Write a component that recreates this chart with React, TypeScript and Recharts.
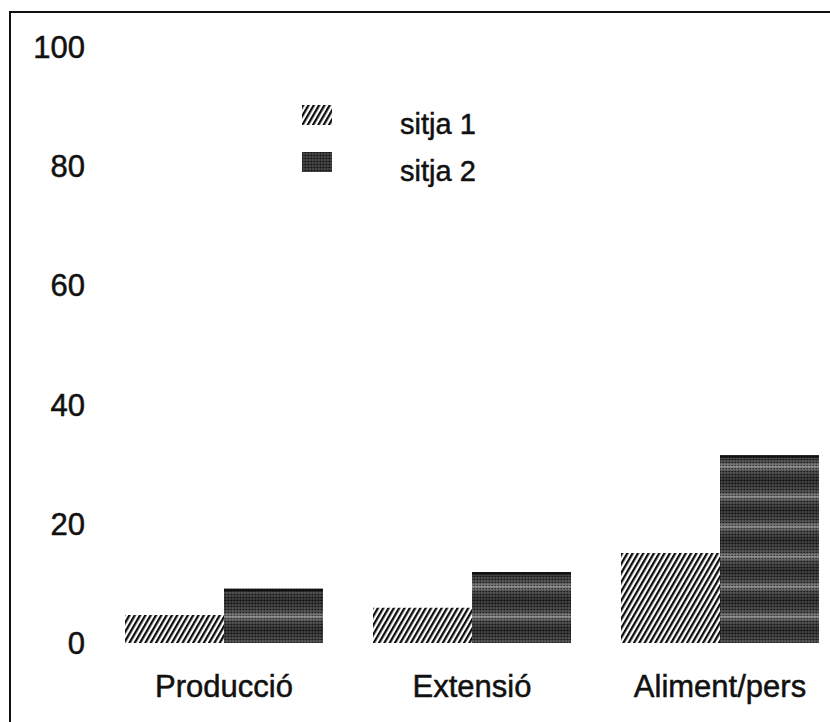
import React from 'react';
import { BarChart, Bar, XAxis, YAxis, Legend } from 'recharts';

const categories = ['Producció', 'Extensió', 'Aliment/pers'];
const sitja1 = [4.7, 5.9, 15.1];
const sitja2 = [9.1, 11.9, 31.5];
const yTicks = [0, 20, 40, 60, 80, 100];
const seriesNames = ['sitja 1', 'sitja 2'];

const data = categories.map((c, i) => ({ name: c, s1: sitja1[i], s2: sitja2[i] }));

const FONT = '"Liberation Sans", Arial, Helvetica, sans-serif';

const PatternDefs = () => (
  <svg width={0} height={0} style={{ position: 'absolute', left: 0, top: 0 }}>
    <defs>
      <pattern id="hatch" patternUnits="userSpaceOnUse" width={4.6} height={10} patternTransform="rotate(30)">
        <rect x={0} y={0} width={4.6} height={10} fill="#fff" />
        <rect x={0} y={0} width={2.3} height={10} fill="#0d0d0d" />
      </pattern>
      <linearGradient id="vgrad" x1="0" y1="0" x2="0" y2="1">
        <stop offset="0" stopColor="#262626" />
        <stop offset="0.4" stopColor="#444" />
        <stop offset="0.55" stopColor="#858585" />
        <stop offset="0.7" stopColor="#444" />
        <stop offset="1" stopColor="#262626" />
      </linearGradient>
      <pattern id="bandFill" patternUnits="userSpaceOnUse" width={10} height={30}>
        <rect x={0} y={0} width={10} height={30} fill="url(#vgrad)" />
      </pattern>
      <pattern id="stipple" patternUnits="userSpaceOnUse" width={3} height={3}>
        <rect x={0} y={0} width={1} height={1} fill="#000" fillOpacity={0.55} />
        <rect x={1.5} y={1.5} width={1} height={1} fill="#fff" fillOpacity={0.35} />
        <rect x={2} y={0} width={1} height={1} fill="#000" fillOpacity={0.3} />
      </pattern>
    </defs>
  </svg>
);

const DarkBar = (props: any) => {
  const { x, y, width, height } = props;
  if (!height || height <= 0) return null;
  return (
    <g>
      <rect x={x} y={y} width={width} height={height} fill="url(#bandFill)" />
      <rect x={x} y={y} width={width} height={height} fill="url(#stipple)" />
      <rect x={x} y={y} width={width} height={2.5} fill="#111" />
    </g>
  );
};

const LegendContent = (props: any) => {
  const payload = props && props.payload && props.payload.length ? props.payload : seriesNames.map((n) => ({ value: n }));
  return (
    <div style={{ position: 'relative', width: 830, height: 200, fontFamily: FONT }}>
      {payload.map((p: any, i: number) => (
        <React.Fragment key={i}>
          <svg
            width={30}
            height={20}
            style={{ position: 'absolute', left: 302, top: 105 + i * 47 }}
          >
            {i === 0 ? (
              <rect x={0} y={0} width={30} height={20} fill="url(#hatch)" />
            ) : (
              <g>
                <rect x={0} y={0} width={30} height={20} fill="#333" />
                <rect x={0} y={0} width={30} height={20} fill="url(#stipple)" />
              </g>
            )}
          </svg>
          <div
            style={{
              position: 'absolute',
              left: 400,
              top: 109.5 + i * 47,
              fontSize: 29,
              lineHeight: '29px',
              color: '#111',
              whiteSpace: 'nowrap',
              WebkitTextStroke: '0.5px #111',
            }}
          >
            {p.value}
          </div>
        </React.Fragment>
      ))}
    </div>
  );
};

const tickStyle = { fontSize: 31, fill: '#111', fontFamily: FONT, stroke: '#111', strokeWidth: 0.5 };

export default function App() {
  return (
    <div
      style={{
        position: 'absolute',
        left: 0,
        top: 0,
        width: 830,
        height: 722,
        overflow: 'hidden',
        background: '#fff',
      }}
    >
      <PatternDefs />
      <div
        style={{
          position: 'absolute',
          left: 9,
          top: 11,
          width: 900,
          height: 800,
          borderLeft: '2px solid #111',
          borderTop: '2px solid #111',
        }}
      />
      <div style={{ position: 'absolute', left: 0, top: 0 }}>
        <BarChart
          width={844}
          height={722}
          data={data}
          margin={{ top: 47, right: 0, bottom: 0, left: 0 }}
          barGap={0}
          barCategoryGap={0}
        >
          <XAxis
            dataKey="name"
            axisLine={false}
            tickLine={false}
            tickSize={0}
            tickMargin={32}
            height={79}
            interval={0}
            tick={tickStyle}
          />
          <YAxis
            domain={[0, 100]}
            ticks={yTicks}
            axisLine={false}
            tickLine={false}
            tickSize={0}
            tickMargin={15}
            width={100}
            interval={0}
            tick={tickStyle}
          />
          <Legend
            layout="vertical"
            verticalAlign="middle"
            align="center"
            content={<LegendContent />}
            wrapperStyle={{ position: 'absolute', left: 0, top: 0, width: 830, height: 200 }}
          />
          <Bar dataKey="s1" name={seriesNames[0]} barSize={99} fill="url(#hatch)" isAnimationActive={false} />
          <Bar dataKey="s2" name={seriesNames[1]} barSize={99} fill="#333" shape={<DarkBar />} isAnimationActive={false} />
        </BarChart>
      </div>
    </div>
  );
}
